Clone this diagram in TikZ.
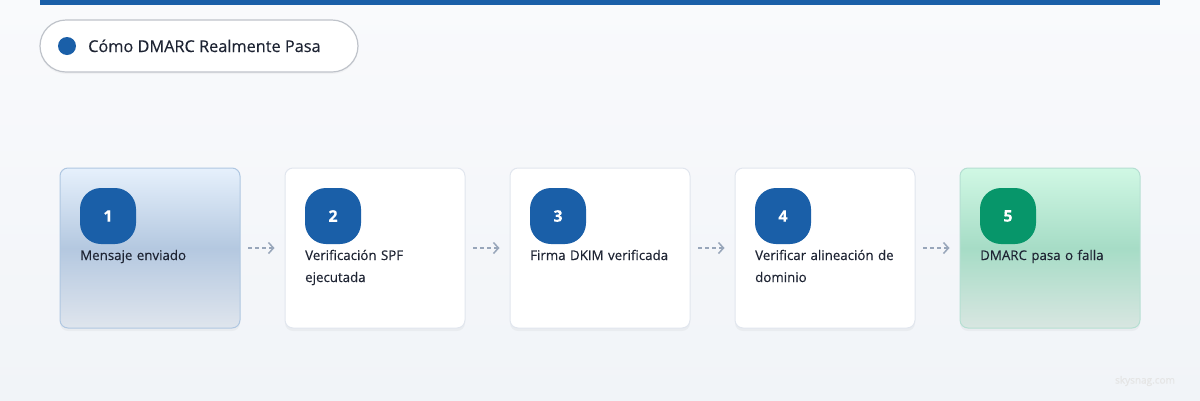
\documentclass[tikz,border=0pt]{standalone}
\usepackage{fontspec}
\setmainfont{Open Sans}[FakeBold=0.25]
\hyphenpenalty=10000
\exhyphenpenalty=10000
\usetikzlibrary{shapes,shadows,arrows.meta}
\definecolor{brand}{HTML}{1A5FA8}
\definecolor{okgreen}{HTML}{07966A}
\definecolor{ink}{HTML}{1E2433}
\definecolor{cardline}{HTML}{E1E6EE}
\definecolor{flowgray}{HTML}{98A6BA}
\definecolor{bluetop}{HTML}{E6F0FC}
\definecolor{bluemid}{HTML}{B4C8E0}
\definecolor{bluebot}{HTML}{DFE5ED}
\definecolor{greentop}{HTML}{D0F8E4}
\definecolor{greenmid}{HTML}{A6DCC6}
\definecolor{greenbot}{HTML}{D8E6E1}
\definecolor{pagetop}{HTML}{F9FAFC}
\definecolor{pagebot}{HTML}{F1F4F8}
\tikzstyle{card}=[rectangle,draw=cardline,line width=1pt,rounded corners=8pt,minimum width=180pt,minimum height=160pt,fill=white,drop shadow={shadow xshift=0pt,shadow yshift=-3pt,opacity=0.07}]
\tikzstyle{badge}=[rectangle,rounded corners=21pt,minimum size=56pt,fill=brand,text=white,font=\bfseries\fontsize{16}{18}\selectfont]
\tikzstyle{steptext}=[anchor=base west,inner sep=0pt,text width=145pt,align=left,text=ink,font=\fontsize{13.3}{22}\selectfont]
\tikzstyle{flow}=[draw=flowgray,line width=1.5pt,dash pattern=on 4pt off 3pt,shorten <=10pt,shorten >=7pt,arrows={Straight Barb[length=5pt,width=11pt,line width=1.5pt]-}]

\begin{document}
\begin{tikzpicture}[x=1pt,y=-1pt]
  \shade[top color=pagetop,bottom color=pagebot] (0,0) rectangle (1200,400);
  \fill[brand] (40,0) rectangle (1160,5);
  \node[rectangle,draw=black!15!cardline,line width=1.2pt,rounded corners=26pt,fill=white,minimum width=318pt,minimum height=52pt,drop shadow={shadow xshift=0pt,shadow yshift=-2pt,opacity=0.06}] (title) at (199,46) {};
  \node[circle,fill=brand,minimum size=18pt,inner sep=0pt] (dot) at (67,46) {};
  \node[anchor=base west,inner sep=0pt,text=ink,font=\fontsize{16.3}{18}\selectfont] (titletext) at (88,52) {Cómo DMARC Realmente Pasa};

  \node[card,draw=brand!35,top color=bluetop,bottom color=bluebot,middle color=bluemid] (c1) at (150,248) {};
  \node[card] (c2) at (375,248) {}
    edge [flow] (c1);
  \node[card] (c3) at (600,248) {}
    edge [flow] (c2);
  \node[card] (c4) at (825,248) {}
    edge [flow] (c3);
  \node[card,draw=okgreen!30,top color=greentop,bottom color=greenbot,middle color=greenmid] (c5) at (1050,248) {}
    edge [flow] (c4);

  \node[badge] (b1) at (108,216) {1};
  \node[badge] (b2) at (333,216) {2};
  \node[badge] (b3) at (558,216) {3};
  \node[badge] (b4) at (783,216) {4};
  \node[badge,fill=okgreen] (b5) at (1008,216) {5};

  \node[steptext] (t1) at (80,260) {Mensaje enviado};
  \node[steptext] (t2) at (305,260) {Verificación SPF ejecutada};
  \node[steptext] (t3) at (530,260) {Firma DKIM verificada};
  \node[steptext] (t4) at (755,260) {Verificar alineación de dominio};
  \node[steptext] (t5) at (980,260) {DMARC pasa o falla};

  \node[text=gray!20,font=\fontsize{10}{12}\selectfont] (mark) at (1145,381) {skysnag.com};
\end{tikzpicture}
\end{document}
